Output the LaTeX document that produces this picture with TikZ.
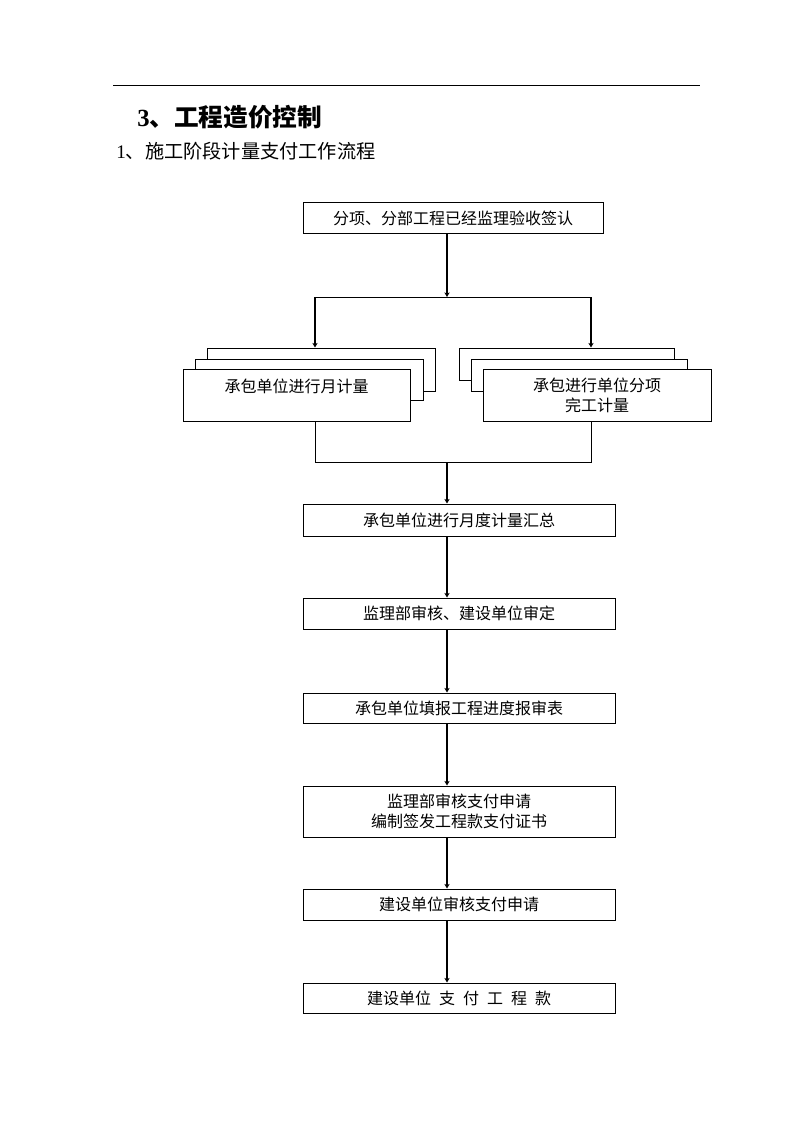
\documentclass[tikz,border=0pt]{standalone}
\usepackage{fontspec}
\setmainfont{Liberation Serif}
\newfontfamily\cjk{Noto Sans CJK SC}
\usetikzlibrary{arrows.meta}
\begin{document}
\begin{tikzpicture}[x=0.75pt,y=-0.75pt,
  box/.style={draw,line width=0.75pt,fill=white,inner sep=0pt,align=center,
    font=\cjk\fontsize{12}{15}\selectfont},
  lbl/.style={inner sep=0pt,align=center,font=\cjk\fontsize{12}{15}\selectfont},
  flow/.style={line width=1.5pt,-{Stealth[length=3.5pt,width=4pt]}},
  thin/.style={line width=0.75pt}]
\useasboundingbox (0,0) rectangle (794,1123);
\fill[white] (0,0) rectangle (794,1123);
% header
\draw[thin] (113,86) -- (700,86);
\node[anchor=west,inner sep=0pt] (title) at (137,117)
  {\fontsize{18.5}{22}\selectfont\bfseries 3{\cjk\bfseries 、工程造价控制}};
\node[anchor=west,inner sep=0pt] (subtitle) at (116,151)
  {\fontsize{14.4}{17}\selectfont 1{\cjk 、施工阶段计量支付工作流程}};
% main boxes
\node[box,minimum width=300*0.75pt,minimum height=31*0.75pt] (b1) at (453,218.5) {分项、分部工程已经监理验收签认};
% left stack
\node[box,minimum width=228*0.75pt,minimum height=43*0.75pt] (lb) at (321,369.5) {};
\node[box,minimum width=228*0.75pt,minimum height=41*0.75pt] (lm) at (309,379.5) {};
\node[box,minimum width=227*0.75pt,minimum height=52*0.75pt] (lf) at (296.5,395) {};
\node[lbl] (lft) at (296.5,386) {承包单位进行月计量};
% right stack
\node[box,minimum width=215*0.75pt,minimum height=32*0.75pt] (rb) at (566.5,364) {};
\node[box,minimum width=216*0.75pt,minimum height=32*0.75pt] (rm) at (579,375) {};
\node[box,minimum width=228*0.75pt,minimum height=52*0.75pt] (rf) at (597,395) {承包进行单位分项\\完工计量};
% lower boxes
\node[box,minimum width=312*0.75pt,minimum height=32*0.75pt] (b2) at (459,520) {承包单位进行月度计量汇总};
\node[box,minimum width=312*0.75pt,minimum height=31*0.75pt] (b3) at (459,613.5) {监理部审核、建设单位审定};
\node[box,minimum width=312*0.75pt,minimum height=30*0.75pt] (b4) at (459,708) {承包单位填报工程进度报审表};
\node[box,minimum width=312*0.75pt,minimum height=51*0.75pt] (b5) at (459,811.5) {监理部审核支付申请\\编制签发工程款支付证书};
\node[box,minimum width=312*0.75pt,minimum height=31*0.75pt] (b6) at (459,904.5) {建设单位审核支付申请};
\node[box,minimum width=312*0.75pt,minimum height=30*0.75pt] (b7) at (459,998) {建设单位\hspace{0.5em}支\hspace{0.5em}付\hspace{0.5em}工\hspace{0.5em}程\hspace{0.5em}款};
% connectors
\coordinate (split) at (447,297);
\coordinate (sl) at (315,297);
\coordinate (sr) at (591,297);
\coordinate (ml) at (315,462);
\coordinate (mr) at (591,462);
\coordinate (merge) at (447,462);
\draw[flow] (b1.south -| split) -- (split);
\draw[thin] (sl) -- (sr);
\draw[flow] (sl) -- (sl |- lb.north);
\draw[flow] (sr) -- (sr |- rb.north);
\draw[thin] (lf.south -| ml) -- (ml) -- (mr) -- (rf.south -| mr);
\draw[flow] (merge) -- (merge |- b2.north);
\draw[flow] (b2.south -| merge) -- (b3.north -| merge);
\draw[flow] (b3.south -| merge) -- (b4.north -| merge);
\draw[flow] (b4.south -| merge) -- (b5.north -| merge);
\draw[flow] (b5.south -| merge) -- (b6.north -| merge);
\draw[flow] (b6.south -| merge) -- (b7.north -| merge);
\end{tikzpicture}
\end{document}
